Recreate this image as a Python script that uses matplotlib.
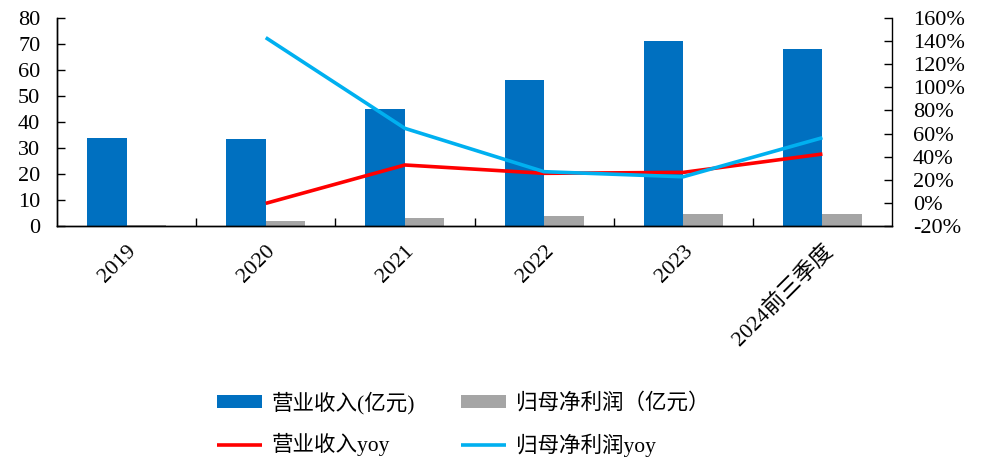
import numpy as np
import matplotlib.pyplot as plt
from matplotlib.ticker import FixedLocator, FuncFormatter, NullFormatter

plt.rcParams['font.family'] = ['Liberation Serif', 'Noto Sans CJK SC']

# data
categories = ["2019", "2020", "2021", "2022", "2023", "2024前三季度"]
revenue = [33.7, 33.6, 44.9, 56.2, 71.3, 68.2]          # 营业收入(亿元)
net_profit = [0.5, 1.8, 3.0, 3.7, 4.5, 4.5]             # 归母净利润（亿元）
revenue_yoy = [None, -0.4, 32.8, 25.6, 26.4, 42.3]      # %
profit_yoy = [None, 143.0, 64.5, 27.0, 22.6, 56.4]      # %

blue = "#0070C0"
gray = "#A5A5A5"
red = "#FF0000"
cyan = "#00B0F0"

fig = plt.figure(figsize=(9.81, 4.59), dpi=100)
ax = fig.add_axes([0.0581, 0.5076, 0.8512, 0.4532])
ax2 = ax.twinx()

x = np.arange(len(categories))
w = 0.284
b1 = ax.bar(x - w / 2, revenue, w, color=blue, label="营业收入(亿元)", zorder=2)
b2 = ax.bar(x + w / 2, net_profit, w, color=gray, label="归母净利润（亿元）", zorder=2)

ry = np.array([np.nan if v is None else v for v in revenue_yoy])
py = np.array([np.nan if v is None else v for v in profit_yoy])
l1, = ax2.plot(x, ry, color=red, lw=2.6, label="营业收入yoy", solid_capstyle="butt")
l2, = ax2.plot(x, py, color=cyan, lw=2.6, label="归母净利润yoy", solid_capstyle="butt")

ax.set_xlim(-0.5, len(categories) - 0.5)
ax.set_ylim(0, 80)
ax.set_yticks(range(0, 81, 10))
ax2.set_ylim(-20, 160)
ax2.set_yticks(range(-20, 161, 20))
ax2.yaxis.set_major_formatter(FuncFormatter(lambda v, p: f"{v:.0f}%"))

# category boundary ticks, labels at centres
ax.xaxis.set_major_locator(FixedLocator(np.arange(0.5, len(categories) - 1, 1)))
ax.xaxis.set_major_formatter(NullFormatter())
ax.xaxis.set_minor_locator(FixedLocator(x))
ax.set_xticklabels(categories, minor=True, rotation=45, ha="right",
                   rotation_mode="anchor", fontsize=16)
ax.tick_params(axis="x", which="minor", length=0, pad=11)
ax.tick_params(axis="x", which="major", direction="in", length=6, width=1)

ax.tick_params(axis="y", direction="in", length=6, width=1, labelsize=16, pad=12)
ax2.tick_params(axis="y", direction="in", length=6, width=1, labelsize=16, pad=15)

for a in (ax, ax2):
    a.spines["top"].set_visible(False)
    for s in ("left", "right", "bottom"):
        a.spines[s].set_linewidth(1)
ax.spines["right"].set_visible(False)

fig.legend([b1, l1, b2, l2],
           ["营业收入(亿元)", "营业收入yoy", "归母净利润（亿元）", "归母净利润yoy"],
           ncol=2, loc="center", bbox_to_anchor=(463 / 981, 1 - 424 / 459),
           frameon=False, fontsize=15.5, handlelength=2.1, handleheight=0.5,
           columnspacing=2.1, labelspacing=0.9, handletextpad=0.45)

fig.savefig("out.png", dpi=100)
